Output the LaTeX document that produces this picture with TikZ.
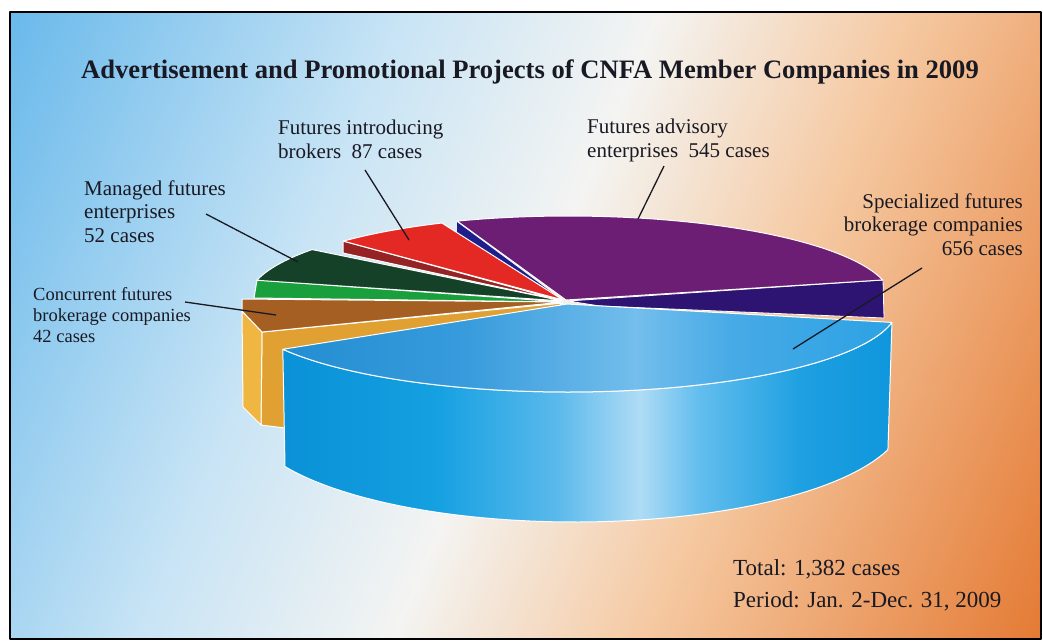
\documentclass[tikz,border=0pt]{standalone}
\usepackage{fontspec}
\setmainfont{Liberation Serif}
\definecolor{bgA}{RGB}{105,185,235}
\definecolor{bgB}{RGB}{200,228,245}
\definecolor{bgC}{RGB}{244,244,242}
\definecolor{bgD}{RGB}{245,200,160}
\definecolor{bgE}{RGB}{228,122,52}
\definecolor{bs1}{RGB}{10,145,215}
\definecolor{bs2}{RGB}{20,160,225}
\definecolor{bs3}{RGB}{90,185,235}
\definecolor{bs4}{RGB}{175,220,245}
\definecolor{bs5}{RGB}{100,190,238}
\definecolor{bs6}{RGB}{30,160,225}
\definecolor{bs7}{RGB}{15,150,220}
\definecolor{bt1}{RGB}{35,142,210}
\definecolor{bt2}{RGB}{55,155,220}
\definecolor{bt3}{RGB}{115,190,236}
\definecolor{bt4}{RGB}{70,170,230}
\definecolor{bt5}{RGB}{45,162,228}
\definecolor{purp}{RGB}{107,30,116}
\definecolor{navyR}{RGB}{45,20,114}
\definecolor{navyS}{RGB}{30,30,140}
\definecolor{redA}{RGB}{228,40,35}
\definecolor{redB}{RGB}{150,35,35}
\definecolor{grnA}{RGB}{20,65,40}
\definecolor{grnB}{RGB}{25,160,60}
\definecolor{brwn}{RGB}{165,95,35}
\definecolor{yelA}{RGB}{240,182,66}
\definecolor{yelB}{RGB}{224,160,50}
\definecolor{txt}{RGB}{25,25,35}
\pgfdeclareverticalshading{bgshade}{100bp}{color(0bp)=(bgA); color(17bp)=(bgA); color(37bp)=(bgB); color(50bp)=(bgC); color(63bp)=(bgD); color(83bp)=(bgE); color(100bp)=(bgE)}
\pgfdeclarehorizontalshading{blueside}{100bp}{color(0bp)=(bs1); color(25bp)=(bs1); color(37.5bp)=(bs2); color(47.5bp)=(bs3); color(54.3bp)=(bs4); color(59bp)=(bs5); color(67.5bp)=(bs6); color(75bp)=(bs7); color(100bp)=(bs7)}
\pgfdeclarehorizontalshading{bluetop}{100bp}{color(0bp)=(bt1); color(25bp)=(bt1); color(40bp)=(bt2); color(54bp)=(bt3); color(62bp)=(bt4); color(75bp)=(bt5); color(100bp)=(bt5)}
\tikzset{
  face/.style={draw=white, line width=1pt},
  leader/.style={draw=txt, line width=1.3pt},
  lbl/.style={inner sep=0pt, text=txt, font=\fontsize{21}{23.5}\selectfont},
}
\begin{document}
\begin{tikzpicture}[x=1pt,y=-1pt,line join=round]
\useasboundingbox (0,0) rectangle (1043,641);
\fill[white] (0,0) rectangle (1043,641);
\shade[shading=bgshade, shading angle=-113] (10,12) rectangle (1041,639);
\draw[black, line width=2.5pt] (10,12) rectangle (1041,639);

% title
\node[inner sep=0pt, text=txt, font=\fontsize{26.6}{30}\selectfont\bfseries] (title) at (530,72) {Advertisement and Promotional Projects of CNFA Member Companies in 2009};

% purple slice (advisory)
\fill[navyR, face, line width=0.8pt] (568,301) -- (883,280) -- (884,318) -- (600,306) -- cycle;
\fill[navyS] (457,222) -- (457,234) -- (562,300) -- cycle;
\fill[purp, face] (566,300) -- plot[domain=-110:-13.8, samples=60] ({568+324*cos(\x)},{300+84*sin(\x)}) -- cycle;

% red slice (introducing)
\fill[redB, face] (343,241) -- (343,253) -- (563,301) -- cycle;
\fill[redA, face] (563,300) -- plot[domain=224.5:246.4, samples=30] ({568+315*cos(\x)},{300+84*sin(\x)}) -- cycle;

% green slice (managed)
\fill[grnB, face] (257,280) -- (254,298) -- (563,302) -- cycle;
\fill[grnA, face] (563,301) -- plot[domain=193.6:216.9, samples=30] ({568+320*cos(\x)},{300+84*sin(\x)}) -- cycle;

% brown / yellow slice (concurrent)
\fill[yelB, face] (262,332) -- (563,303) -- (420,400) -- (285,428) -- (261,425) -- cycle;
\fill[yelA, face] (242,311) -- (262,332) -- (261,425) -- (243,407) -- cycle;
\fill[brwn, face] (242,299) -- (563,302) -- (262,332) -- (242,311) -- cycle;

% blue slice (specialized)
\shadedraw[shading=blueside, face] plot[domain=11:149.8, samples=80] ({568+330*cos(\x)},{306+86*sin(\x)}) -- plot[domain=151.5:18.5, samples=80] ({575+330*cos(\x)},{416+106*sin(\x)}) -- cycle;
\shadedraw[shading=bluetop, face] (567,304) -- plot[domain=11:149.8, samples=80] ({568+330*cos(\x)},{306+86*sin(\x)}) -- cycle;

% labels (base anchor = baseline of last line)
\node[lbl, anchor=base west, align=left] (intro) at (278,158) {Futures introducing\\brokers~ 87 cases};
\node[lbl, anchor=base west, align=left] (managed) at (84,242) {Managed futures\\enterprises\\52 cases};
\node[lbl, anchor=base west, align=left, font=\fontsize{18.5}{21}\selectfont] (concur) at (33,342) {Concurrent futures\\brokerage companies\\42 cases};
\node[lbl, anchor=base west, align=left] (advis) at (587,157) {Futures advisory\\enterprises~ 545 cases};
\node[lbl, anchor=base east, align=right] (spec) at (1023,255) {Specialized futures\\brokerage companies\\656 cases};
\node[lbl, anchor=base west, align=left, font=\fontsize{23}{32}\selectfont] (total) at (733,607) {Total: 1,382 cases\\Period: Jan. 2-Dec. 31, 2009};

% leaders
\coordinate (introA) at (365,170); \coordinate (introB) at (409,240);
\coordinate (manA) at (206,214); \coordinate (manB) at (298,262);
\coordinate (conA) at (185,302); \coordinate (conB) at (276,315);
\coordinate (advA) at (664,166); \coordinate (advB) at (638,219);
\coordinate (specA) at (922,268); \coordinate (specB) at (793,349);
\draw[leader] (introA) -- (introB);
\draw[leader] (manA) -- (manB);
\draw[leader] (conA) -- (conB);
\draw[leader] (advA) -- (advB);
\draw[leader] (specA) -- (specB);
\end{tikzpicture}
\end{document}
